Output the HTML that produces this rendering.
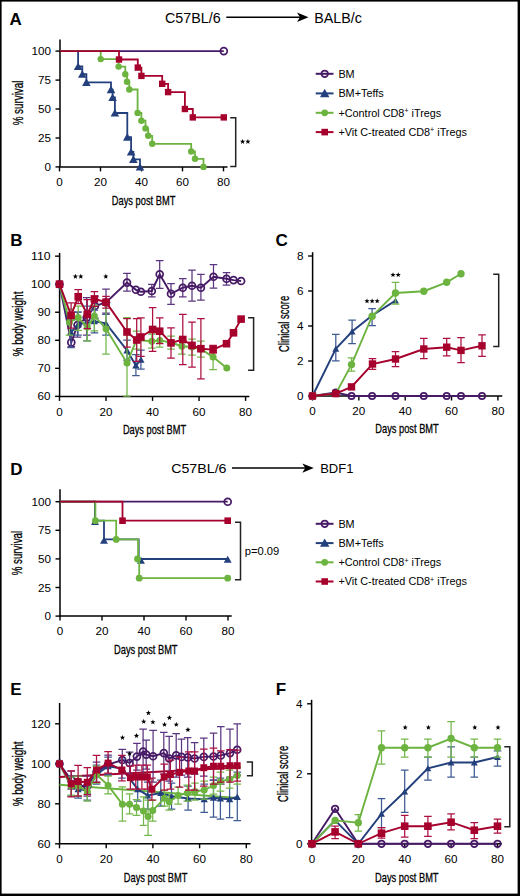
<!DOCTYPE html>
<html><head><meta charset="utf-8"><style>
html,body{margin:0;padding:0;background:#fff;width:520px;height:896px;overflow:hidden}
svg text{font-family:"Liberation Sans", sans-serif;fill:#000}
svg text.lab{stroke:#000;stroke-width:0.3px}
</style></head><body>
<svg width="520" height="896" viewBox="0 0 520 896" style="display:block;font-family:'Liberation Sans', sans-serif">
<rect x="0" y="0" width="520" height="896" fill="#fff"/>
<text x="9.6" y="25" font-size="17" text-anchor="start" font-weight="bold" >A</text>
<text x="165" y="22.5" font-size="14.0" text-anchor="start" font-weight="normal" textLength="55.7" lengthAdjust="spacingAndGlyphs">C57BL/6</text>
<line x1="226.3" y1="17.3" x2="300.5" y2="17.3" stroke="#000" stroke-width="1.5" />
<polygon points="308.5,17.3 297,12.6 300,17.3 297,22" fill="#000"/>
<text x="314.3" y="22.5" font-size="14.0" text-anchor="start" font-weight="normal" textLength="47.7" lengthAdjust="spacingAndGlyphs">BALB/c</text>
<line x1="60" y1="39.4" x2="60" y2="166.9" stroke="#000" stroke-width="1.5" />
<line x1="55.5" y1="51.1" x2="60" y2="51.1" stroke="#000" stroke-width="1.4" />
<text x="51" y="55.1" font-size="11.3" text-anchor="end" font-weight="normal" textLength="19.5" lengthAdjust="spacingAndGlyphs">100</text>
<line x1="55.5" y1="80.1" x2="60" y2="80.1" stroke="#000" stroke-width="1.4" />
<text x="51" y="84.1" font-size="11.3" text-anchor="end" font-weight="normal" textLength="13.0" lengthAdjust="spacingAndGlyphs">75</text>
<line x1="55.5" y1="109" x2="60" y2="109" stroke="#000" stroke-width="1.4" />
<text x="51" y="113" font-size="11.3" text-anchor="end" font-weight="normal" textLength="13.0" lengthAdjust="spacingAndGlyphs">50</text>
<line x1="55.5" y1="138" x2="60" y2="138" stroke="#000" stroke-width="1.4" />
<text x="51" y="142" font-size="11.3" text-anchor="end" font-weight="normal" textLength="13.0" lengthAdjust="spacingAndGlyphs">25</text>
<line x1="55.5" y1="166.9" x2="60" y2="166.9" stroke="#000" stroke-width="1.4" />
<text x="51" y="170.9" font-size="11.3" text-anchor="end" font-weight="normal" textLength="6.5" lengthAdjust="spacingAndGlyphs">0</text>
<line x1="59.25" y1="166.9" x2="227.5" y2="166.9" stroke="#000" stroke-width="1.5" />
<line x1="59.5" y1="166.9" x2="59.5" y2="171.4" stroke="#000" stroke-width="1.4" />
<text x="59.5" y="186.2" font-size="11.3" text-anchor="middle" font-weight="normal" textLength="6.5" lengthAdjust="spacingAndGlyphs">0</text>
<line x1="100.5" y1="166.9" x2="100.5" y2="171.4" stroke="#000" stroke-width="1.4" />
<text x="100.5" y="186.2" font-size="11.3" text-anchor="middle" font-weight="normal" textLength="13.0" lengthAdjust="spacingAndGlyphs">20</text>
<line x1="141.5" y1="166.9" x2="141.5" y2="171.4" stroke="#000" stroke-width="1.4" />
<text x="141.5" y="186.2" font-size="11.3" text-anchor="middle" font-weight="normal" textLength="13.0" lengthAdjust="spacingAndGlyphs">40</text>
<line x1="182.5" y1="166.9" x2="182.5" y2="171.4" stroke="#000" stroke-width="1.4" />
<text x="182.5" y="186.2" font-size="11.3" text-anchor="middle" font-weight="normal" textLength="13.0" lengthAdjust="spacingAndGlyphs">60</text>
<line x1="223.5" y1="166.9" x2="223.5" y2="171.4" stroke="#000" stroke-width="1.4" />
<text x="223.5" y="186.2" font-size="11.3" text-anchor="middle" font-weight="normal" textLength="13.0" lengthAdjust="spacingAndGlyphs">80</text>
<text class="lab" x="143.6" y="204.8" font-size="13.6" text-anchor="middle" textLength="63.5" lengthAdjust="spacingAndGlyphs">Days post BMT</text>
<text class="lab" transform="translate(22.6,103) rotate(-90)" x="0" y="0" font-size="14.0" text-anchor="middle" textLength="44.7" lengthAdjust="spacingAndGlyphs">% survival</text>
<polyline fill="none" stroke="#471a66" stroke-width="1.8" stroke-linejoin="miter" points="60,51.1 223.8,51.1"/>
<polyline fill="none" stroke="#23407d" stroke-width="1.8" stroke-linejoin="miter" points="60,51.1 78.1,51.1 78.1,66.4 82.3,66.4 82.3,74.2 86.4,74.2 86.4,82.3 111,82.3 111,89.6 112.6,89.6 112.6,97.4 114.9,97.4 114.9,113 127.3,113 127.3,137.1 131.1,137.1 131.1,151.9 133.4,151.9 133.4,159.3 140,159.3 140,166.9"/>
<polygon points="78.1,62.4 82.4,70 73.8,70" fill="#23407d"/>
<polygon points="82.3,70.2 86.6,77.8 78,77.8" fill="#23407d"/>
<polygon points="86.4,78.3 90.7,85.9 82.1,85.9" fill="#23407d"/>
<polygon points="111,85.6 115.3,93.2 106.7,93.2" fill="#23407d"/>
<polygon points="112.6,93.4 116.9,101 108.3,101" fill="#23407d"/>
<polygon points="114.9,109 119.2,116.6 110.6,116.6" fill="#23407d"/>
<polygon points="127.3,133.1 131.6,140.7 123,140.7" fill="#23407d"/>
<polygon points="131.1,147.9 135.4,155.5 126.8,155.5" fill="#23407d"/>
<polygon points="133.4,155.3 137.7,162.9 129.1,162.9" fill="#23407d"/>
<polygon points="140,162.9 144.3,170.5 135.7,170.5" fill="#23407d"/>
<polyline fill="none" stroke="#6cb33f" stroke-width="1.8" stroke-linejoin="miter" points="60,51.1 100.7,51.1 100.7,59.1 118.6,59.1 118.6,66.6 125.3,66.6 125.3,74.3 127,74.3 127,81.7 129.3,81.7 129.3,89.5 137.6,89.5 137.6,112.9 141.4,112.9 141.4,120.7 145.5,120.7 145.5,128.4 148.2,128.4 148.2,135.8 152.2,135.8 152.2,143.8 191.2,143.8 191.2,151.5 195,151.5 195,158.8 203.5,158.8 203.5,166.9"/>
<circle cx="100.7" cy="59.1" r="3.22" fill="#6cb33f"/>
<circle cx="118.6" cy="66.6" r="3.22" fill="#6cb33f"/>
<circle cx="125.3" cy="74.3" r="3.22" fill="#6cb33f"/>
<circle cx="127" cy="81.7" r="3.22" fill="#6cb33f"/>
<circle cx="129.3" cy="89.5" r="3.22" fill="#6cb33f"/>
<circle cx="137.6" cy="112.9" r="3.22" fill="#6cb33f"/>
<circle cx="141.4" cy="120.7" r="3.22" fill="#6cb33f"/>
<circle cx="145.5" cy="128.4" r="3.22" fill="#6cb33f"/>
<circle cx="148.2" cy="135.8" r="3.22" fill="#6cb33f"/>
<circle cx="152.2" cy="143.8" r="3.22" fill="#6cb33f"/>
<circle cx="191.2" cy="151.5" r="3.22" fill="#6cb33f"/>
<circle cx="195" cy="158.8" r="3.22" fill="#6cb33f"/>
<circle cx="203.5" cy="166.9" r="3.22" fill="#6cb33f"/>
<polyline fill="none" stroke="#a6002d" stroke-width="1.8" stroke-linejoin="miter" points="60,51.1 119,51.1 119,59.5 137.8,59.5 137.8,67.6 141.4,67.6 141.4,75.9 162.2,75.9 162.2,83.8 168.1,83.8 168.1,92.1 184.9,92.1 184.9,109 192.8,109 192.8,117.4 223.8,117.4"/>
<rect x="115.8" y="56.3" width="6.4" height="6.4" fill="#a6002d"/>
<rect x="134.6" y="64.4" width="6.4" height="6.4" fill="#a6002d"/>
<rect x="138.2" y="72.7" width="6.4" height="6.4" fill="#a6002d"/>
<rect x="159" y="80.6" width="6.4" height="6.4" fill="#a6002d"/>
<rect x="164.9" y="88.9" width="6.4" height="6.4" fill="#a6002d"/>
<rect x="181.7" y="105.8" width="6.4" height="6.4" fill="#a6002d"/>
<rect x="189.6" y="114.2" width="6.4" height="6.4" fill="#a6002d"/>
<rect x="220.6" y="114.2" width="6.4" height="6.4" fill="#a6002d"/>
<circle cx="223.8" cy="51.1" r="3.45" fill="none" stroke="#471a66" stroke-width="1.75"/>
<path d="M230.2 117.8H235.7V166.6H230.2" stroke="#222" stroke-width="1.5" fill="none"/>
<polygon points="242.6,138.95 243.28,140.77 245.22,140.85 243.7,142.06 244.22,143.92 242.6,142.85 240.98,143.92 241.5,142.06 239.98,140.85 241.92,140.77" fill="#000"/>
<polygon points="247.9,138.95 248.58,140.77 250.52,140.85 249,142.06 249.52,143.92 247.9,142.85 246.28,143.92 246.8,142.06 245.28,140.85 247.22,140.77" fill="#000"/>
<line x1="315.7" y1="73.8" x2="333.5" y2="73.8" stroke="#471a66" stroke-width="2" />
<circle cx="324.7" cy="73.8" r="3.28" fill="none" stroke="#471a66" stroke-width="1.75"/>
<text x="338.4" y="77.6" font-size="10.85" text-anchor="start" font-weight="normal" >BM</text>
<line x1="315.7" y1="93.4" x2="333.5" y2="93.4" stroke="#23407d" stroke-width="2" />
<polygon points="324.7,88.8 329.43,97.16 319.97,97.16" fill="#23407d"/>
<text x="338.4" y="97.2" font-size="10.85" text-anchor="start" font-weight="normal" >BM+Teffs</text>
<line x1="315.7" y1="112.8" x2="333.5" y2="112.8" stroke="#6cb33f" stroke-width="2" />
<circle cx="324.7" cy="112.8" r="3.36" fill="#6cb33f"/>
<text x="338.4" y="116.6" font-size="10.85" text-anchor="start" font-weight="normal" >+Control CD8<tspan font-size="7" dy="-3.5">+</tspan><tspan dy="3.5"> iTregs</tspan></text>
<line x1="315.7" y1="132.1" x2="333.5" y2="132.1" stroke="#a6002d" stroke-width="2" />
<rect x="321.4" y="128.8" width="6.6" height="6.6" fill="#a6002d"/>
<text x="338.4" y="135.9" font-size="10.85" text-anchor="start" font-weight="normal" >+Vit C-treated CD8<tspan font-size="7" dy="-3.5">+</tspan><tspan dy="3.5"> iTregs</tspan></text>
<text x="10.3" y="245.5" font-size="17" text-anchor="start" font-weight="bold" >B</text>
<line x1="59.6" y1="252.9" x2="59.6" y2="396.4" stroke="#000" stroke-width="1.5" />
<line x1="55.1" y1="256.16" x2="59.6" y2="256.16" stroke="#000" stroke-width="1.4" />
<text x="50.6" y="260.16" font-size="11.3" text-anchor="end" font-weight="normal" textLength="19.5" lengthAdjust="spacingAndGlyphs">110</text>
<line x1="55.1" y1="284.2" x2="59.6" y2="284.2" stroke="#000" stroke-width="1.4" />
<text x="50.6" y="288.2" font-size="11.3" text-anchor="end" font-weight="normal" textLength="19.5" lengthAdjust="spacingAndGlyphs">100</text>
<line x1="55.1" y1="312.24" x2="59.6" y2="312.24" stroke="#000" stroke-width="1.4" />
<text x="50.6" y="316.24" font-size="11.3" text-anchor="end" font-weight="normal" textLength="13.0" lengthAdjust="spacingAndGlyphs">90</text>
<line x1="55.1" y1="340.28" x2="59.6" y2="340.28" stroke="#000" stroke-width="1.4" />
<text x="50.6" y="344.28" font-size="11.3" text-anchor="end" font-weight="normal" textLength="13.0" lengthAdjust="spacingAndGlyphs">80</text>
<line x1="55.1" y1="368.32" x2="59.6" y2="368.32" stroke="#000" stroke-width="1.4" />
<text x="50.6" y="372.32" font-size="11.3" text-anchor="end" font-weight="normal" textLength="13.0" lengthAdjust="spacingAndGlyphs">70</text>
<line x1="55.1" y1="396.36" x2="59.6" y2="396.36" stroke="#000" stroke-width="1.4" />
<text x="50.6" y="400.36" font-size="11.3" text-anchor="end" font-weight="normal" textLength="13.0" lengthAdjust="spacingAndGlyphs">60</text>
<line x1="58.85" y1="396.4" x2="249.4" y2="396.4" stroke="#000" stroke-width="1.5" />
<line x1="59.5" y1="396.4" x2="59.5" y2="400.9" stroke="#000" stroke-width="1.4" />
<text x="59.5" y="415.7" font-size="11.3" text-anchor="middle" font-weight="normal" textLength="6.5" lengthAdjust="spacingAndGlyphs">0</text>
<line x1="106.02" y1="396.4" x2="106.02" y2="400.9" stroke="#000" stroke-width="1.4" />
<text x="106.02" y="415.7" font-size="11.3" text-anchor="middle" font-weight="normal" textLength="13.0" lengthAdjust="spacingAndGlyphs">20</text>
<line x1="152.54" y1="396.4" x2="152.54" y2="400.9" stroke="#000" stroke-width="1.4" />
<text x="152.54" y="415.7" font-size="11.3" text-anchor="middle" font-weight="normal" textLength="13.0" lengthAdjust="spacingAndGlyphs">40</text>
<line x1="199.06" y1="396.4" x2="199.06" y2="400.9" stroke="#000" stroke-width="1.4" />
<text x="199.06" y="415.7" font-size="11.3" text-anchor="middle" font-weight="normal" textLength="13.0" lengthAdjust="spacingAndGlyphs">60</text>
<line x1="245.58" y1="396.4" x2="245.58" y2="400.9" stroke="#000" stroke-width="1.4" />
<text x="245.58" y="415.7" font-size="11.3" text-anchor="middle" font-weight="normal" textLength="13.0" lengthAdjust="spacingAndGlyphs">80</text>
<text class="lab" x="154.5" y="434.1" font-size="13.6" text-anchor="middle" textLength="63.2" lengthAdjust="spacingAndGlyphs">Days post BMT</text>
<text class="lab" transform="translate(22.5,324) rotate(-90)" x="0" y="0" font-size="14.0" text-anchor="middle" textLength="64.8" lengthAdjust="spacingAndGlyphs">% body weight</text>
<path d="M71.3 334V346.7M67.5 334H75.1M67.5 346.7H75.1" stroke="#5c3680" stroke-width="1.25" fill="none"/>
<path d="M77.5 312V337M73.7 312H81.3M73.7 337H81.3" stroke="#5c3680" stroke-width="1.25" fill="none"/>
<path d="M86.7 297.5V335M82.9 297.5H90.5M82.9 335H90.5" stroke="#5c3680" stroke-width="1.25" fill="none"/>
<path d="M94.9 296V318M91.1 296H98.7M91.1 318H98.7" stroke="#5c3680" stroke-width="1.25" fill="none"/>
<path d="M106 289V313M102.2 289H109.8M102.2 313H109.8" stroke="#5c3680" stroke-width="1.25" fill="none"/>
<path d="M127 273.4V291M123.2 273.4H130.8M123.2 291H130.8" stroke="#5c3680" stroke-width="1.25" fill="none"/>
<path d="M151.8 284.3V296.9M148 284.3H155.6M148 296.9H155.6" stroke="#5c3680" stroke-width="1.25" fill="none"/>
<path d="M159.7 260.5V288.4M155.9 260.5H163.5M155.9 288.4H163.5" stroke="#5c3680" stroke-width="1.25" fill="none"/>
<path d="M171 283.5V304.4M167.2 283.5H174.8M167.2 304.4H174.8" stroke="#5c3680" stroke-width="1.25" fill="none"/>
<path d="M182.8 278.5V296.9M179 278.5H186.6M179 296.9H186.6" stroke="#5c3680" stroke-width="1.25" fill="none"/>
<path d="M192 270V301M188.2 270H195.8M188.2 301H195.8" stroke="#5c3680" stroke-width="1.25" fill="none"/>
<path d="M200.9 274.3V300.2M197.1 274.3H204.7M197.1 300.2H204.7" stroke="#5c3680" stroke-width="1.25" fill="none"/>
<path d="M213.5 264.7V288.2M209.7 264.7H217.3M209.7 288.2H217.3" stroke="#5c3680" stroke-width="1.25" fill="none"/>
<path d="M226.5 272.6V285.1M222.7 272.6H230.3M222.7 285.1H230.3" stroke="#5c3680" stroke-width="1.25" fill="none"/>
<polyline fill="none" stroke="#471a66" stroke-width="1.9" stroke-linejoin="miter" points="59.5,284.2 71.3,342.4 77.5,325 86.7,317.6 94.9,306 106,302.5 127,282.6 135.9,289.8 140.9,291.8 151.8,291 159.7,274.3 171,293.8 182.8,287.7 192,285.8 200.9,287.7 213.5,276.8 226.5,278.8 233.5,280.1 241.1,281"/>
<circle cx="59.5" cy="284.2" r="3.45" fill="none" stroke="#471a66" stroke-width="1.75"/>
<circle cx="71.3" cy="342.4" r="3.45" fill="none" stroke="#471a66" stroke-width="1.75"/>
<circle cx="77.5" cy="325" r="3.45" fill="none" stroke="#471a66" stroke-width="1.75"/>
<circle cx="86.7" cy="317.6" r="3.45" fill="none" stroke="#471a66" stroke-width="1.75"/>
<circle cx="94.9" cy="306" r="3.45" fill="none" stroke="#471a66" stroke-width="1.75"/>
<circle cx="106" cy="302.5" r="3.45" fill="none" stroke="#471a66" stroke-width="1.75"/>
<circle cx="127" cy="282.6" r="3.45" fill="none" stroke="#471a66" stroke-width="1.75"/>
<circle cx="135.9" cy="289.8" r="3.45" fill="none" stroke="#471a66" stroke-width="1.75"/>
<circle cx="140.9" cy="291.8" r="3.45" fill="none" stroke="#471a66" stroke-width="1.75"/>
<circle cx="151.8" cy="291" r="3.45" fill="none" stroke="#471a66" stroke-width="1.75"/>
<circle cx="159.7" cy="274.3" r="3.45" fill="none" stroke="#471a66" stroke-width="1.75"/>
<circle cx="171" cy="293.8" r="3.45" fill="none" stroke="#471a66" stroke-width="1.75"/>
<circle cx="182.8" cy="287.7" r="3.45" fill="none" stroke="#471a66" stroke-width="1.75"/>
<circle cx="192" cy="285.8" r="3.45" fill="none" stroke="#471a66" stroke-width="1.75"/>
<circle cx="200.9" cy="287.7" r="3.45" fill="none" stroke="#471a66" stroke-width="1.75"/>
<circle cx="213.5" cy="276.8" r="3.45" fill="none" stroke="#471a66" stroke-width="1.75"/>
<circle cx="226.5" cy="278.8" r="3.45" fill="none" stroke="#471a66" stroke-width="1.75"/>
<circle cx="233.5" cy="280.1" r="3.45" fill="none" stroke="#471a66" stroke-width="1.75"/>
<circle cx="241.1" cy="281" r="3.45" fill="none" stroke="#471a66" stroke-width="1.75"/>
<path d="M71 320V347.7M67.2 320H74.8M67.2 347.7H74.8" stroke="#3e5b94" stroke-width="1.25" fill="none"/>
<path d="M78 312V335M74.2 312H81.8M74.2 335H81.8" stroke="#3e5b94" stroke-width="1.25" fill="none"/>
<path d="M87 306V340.8M83.2 306H90.8M83.2 340.8H90.8" stroke="#3e5b94" stroke-width="1.25" fill="none"/>
<path d="M94.4 310V332.9M90.6 310H98.2M90.6 332.9H98.2" stroke="#3e5b94" stroke-width="1.25" fill="none"/>
<path d="M106 314.4V335M102.2 314.4H109.8M102.2 335H109.8" stroke="#3e5b94" stroke-width="1.25" fill="none"/>
<path d="M127 340V360M123.2 340H130.8M123.2 360H130.8" stroke="#3e5b94" stroke-width="1.25" fill="none"/>
<path d="M135.9 354.6V375.5M132.1 354.6H139.7M132.1 375.5H139.7" stroke="#3e5b94" stroke-width="1.25" fill="none"/>
<path d="M140.9 350V369M137.1 350H144.7M137.1 369H144.7" stroke="#3e5b94" stroke-width="1.25" fill="none"/>
<polyline fill="none" stroke="#23407d" stroke-width="1.9" stroke-linejoin="miter" points="59.5,284.2 71,332.4 78,324.4 87,322.9 94.4,321.3 106,323.4 127,350.4 135.9,365.5 140.9,359.6"/>
<polygon points="59.5,280.8 63.16,287.26 55.84,287.26" fill="#23407d"/>
<polygon points="71,329 74.66,335.46 67.34,335.46" fill="#23407d"/>
<polygon points="78,321 81.66,327.46 74.34,327.46" fill="#23407d"/>
<polygon points="87,319.5 90.66,325.96 83.34,325.96" fill="#23407d"/>
<polygon points="94.4,317.9 98.06,324.36 90.75,324.36" fill="#23407d"/>
<polygon points="106,320 109.66,326.46 102.34,326.46" fill="#23407d"/>
<polygon points="127,347 130.66,353.46 123.34,353.46" fill="#23407d"/>
<polygon points="135.9,362.1 139.56,368.56 132.25,368.56" fill="#23407d"/>
<polygon points="140.9,356.2 144.56,362.66 137.25,362.66" fill="#23407d"/>
<path d="M69.5 309V335M65.7 309H73.3M65.7 335H73.3" stroke="#74b74a" stroke-width="1.25" fill="none"/>
<path d="M78.2 306V330.3M74.4 306H82M74.4 330.3H82" stroke="#74b74a" stroke-width="1.25" fill="none"/>
<path d="M87.3 313V340.8M83.5 313H91.1M83.5 340.8H91.1" stroke="#74b74a" stroke-width="1.25" fill="none"/>
<path d="M94.4 305.4V330.8M90.6 305.4H98.2M90.6 330.8H98.2" stroke="#74b74a" stroke-width="1.25" fill="none"/>
<path d="M106 304.3V354M102.2 304.3H109.8M102.2 354H109.8" stroke="#74b74a" stroke-width="1.25" fill="none"/>
<path d="M127 317.7V396M123.2 317.7H130.8M123.2 396H130.8" stroke="#74b74a" stroke-width="1.25" fill="none"/>
<path d="M136.5 331V349M132.7 331H140.3M132.7 349H140.3" stroke="#74b74a" stroke-width="1.25" fill="none"/>
<path d="M151.8 334V348M148 334H155.6M148 348H155.6" stroke="#74b74a" stroke-width="1.25" fill="none"/>
<path d="M159.7 333V347M155.9 333H163.5M155.9 347H163.5" stroke="#74b74a" stroke-width="1.25" fill="none"/>
<path d="M171 336V349M167.2 336H174.8M167.2 349H174.8" stroke="#74b74a" stroke-width="1.25" fill="none"/>
<path d="M181.9 338V354M178.1 338H185.7M178.1 354H185.7" stroke="#74b74a" stroke-width="1.25" fill="none"/>
<path d="M192 339V355M188.2 339H195.8M188.2 355H195.8" stroke="#74b74a" stroke-width="1.25" fill="none"/>
<path d="M200.9 341V357M197.1 341H204.7M197.1 357H204.7" stroke="#74b74a" stroke-width="1.25" fill="none"/>
<path d="M213.1 346.2V369.7M209.3 346.2H216.9M209.3 369.7H216.9" stroke="#74b74a" stroke-width="1.25" fill="none"/>
<polyline fill="none" stroke="#6cb33f" stroke-width="1.9" stroke-linejoin="miter" points="59.5,284.2 69.5,322.3 78.2,317.6 87.3,327.1 94.4,316 106,328.7 127,363 136.5,340 151.8,341.2 159.7,340.4 171,342.5 181.9,346.2 192,347 200.9,349 213.1,357.1 226.8,368"/>
<circle cx="59.5" cy="284.2" r="3.5" fill="#6cb33f"/>
<circle cx="69.5" cy="322.3" r="3.5" fill="#6cb33f"/>
<circle cx="78.2" cy="317.6" r="3.5" fill="#6cb33f"/>
<circle cx="87.3" cy="327.1" r="3.5" fill="#6cb33f"/>
<circle cx="94.4" cy="316" r="3.5" fill="#6cb33f"/>
<circle cx="106" cy="328.7" r="3.5" fill="#6cb33f"/>
<circle cx="127" cy="363" r="3.5" fill="#6cb33f"/>
<circle cx="136.5" cy="340" r="3.5" fill="#6cb33f"/>
<circle cx="151.8" cy="341.2" r="3.5" fill="#6cb33f"/>
<circle cx="159.7" cy="340.4" r="3.5" fill="#6cb33f"/>
<circle cx="171" cy="342.5" r="3.5" fill="#6cb33f"/>
<circle cx="181.9" cy="346.2" r="3.5" fill="#6cb33f"/>
<circle cx="192" cy="347" r="3.5" fill="#6cb33f"/>
<circle cx="200.9" cy="349" r="3.5" fill="#6cb33f"/>
<circle cx="213.1" cy="357.1" r="3.5" fill="#6cb33f"/>
<circle cx="226.8" cy="368" r="3.5" fill="#6cb33f"/>
<path d="M71.1 302.8V328M67.3 302.8H74.9M67.3 328H74.9" stroke="#ad1040" stroke-width="1.25" fill="none"/>
<path d="M78.2 289.7V303.7M74.4 289.7H82M74.4 303.7H82" stroke="#ad1040" stroke-width="1.25" fill="none"/>
<path d="M87.3 299.6V328.7M83.5 299.6H91.1M83.5 328.7H91.1" stroke="#ad1040" stroke-width="1.25" fill="none"/>
<path d="M94.4 291.6V306.4M90.6 291.6H98.2M90.6 306.4H98.2" stroke="#ad1040" stroke-width="1.25" fill="none"/>
<path d="M106 296.4V308M102.2 296.4H109.8M102.2 308H109.8" stroke="#ad1040" stroke-width="1.25" fill="none"/>
<path d="M127 318.6V347M123.2 318.6H130.8M123.2 347H130.8" stroke="#ad1040" stroke-width="1.25" fill="none"/>
<path d="M136.7 318.6V361.3M132.9 318.6H140.5M132.9 361.3H140.5" stroke="#ad1040" stroke-width="1.25" fill="none"/>
<path d="M140.9 317.8V356.3M137.1 317.8H144.7M137.1 356.3H144.7" stroke="#ad1040" stroke-width="1.25" fill="none"/>
<path d="M152.6 307.7V351.3M148.8 307.7H156.4M148.8 351.3H156.4" stroke="#ad1040" stroke-width="1.25" fill="none"/>
<path d="M159.7 317.8V343.7M155.9 317.8H163.5M155.9 343.7H163.5" stroke="#ad1040" stroke-width="1.25" fill="none"/>
<path d="M171 327.8V358M167.2 327.8H174.8M167.2 358H174.8" stroke="#ad1040" stroke-width="1.25" fill="none"/>
<path d="M182.8 314.4V364.6M179 314.4H186.6M179 364.6H186.6" stroke="#ad1040" stroke-width="1.25" fill="none"/>
<path d="M192 322V367.2M188.2 322H195.8M188.2 367.2H195.8" stroke="#ad1040" stroke-width="1.25" fill="none"/>
<path d="M200.9 318.6V378.9M197.1 318.6H204.7M197.1 378.9H204.7" stroke="#ad1040" stroke-width="1.25" fill="none"/>
<path d="M213.1 345.4V352.9M209.3 345.4H216.9M209.3 352.9H216.9" stroke="#ad1040" stroke-width="1.25" fill="none"/>
<polyline fill="none" stroke="#a6002d" stroke-width="1.9" stroke-linejoin="miter" points="59.5,284.2 71.1,315.4 78.2,296.7 87.3,314.4 94.4,299 106,302.2 127,332 136.7,340 140.9,337 152.6,329.5 159.7,331.2 171,342.9 182.8,339.5 192,345.4 200.9,348.7 213.1,349.6 226.5,343.7 233.5,332.8 241.1,319.1"/>
<rect x="55.7" y="280.4" width="7.59" height="7.59" fill="#a6002d"/>
<rect x="67.3" y="311.6" width="7.59" height="7.59" fill="#a6002d"/>
<rect x="74.41" y="292.9" width="7.59" height="7.59" fill="#a6002d"/>
<rect x="83.5" y="310.6" width="7.59" height="7.59" fill="#a6002d"/>
<rect x="90.61" y="295.2" width="7.59" height="7.59" fill="#a6002d"/>
<rect x="102.2" y="298.4" width="7.59" height="7.59" fill="#a6002d"/>
<rect x="123.2" y="328.2" width="7.59" height="7.59" fill="#a6002d"/>
<rect x="132.91" y="336.2" width="7.59" height="7.59" fill="#a6002d"/>
<rect x="137.11" y="333.2" width="7.59" height="7.59" fill="#a6002d"/>
<rect x="148.81" y="325.7" width="7.59" height="7.59" fill="#a6002d"/>
<rect x="155.91" y="327.4" width="7.59" height="7.59" fill="#a6002d"/>
<rect x="167.21" y="339.1" width="7.59" height="7.59" fill="#a6002d"/>
<rect x="179.01" y="335.7" width="7.59" height="7.59" fill="#a6002d"/>
<rect x="188.21" y="341.6" width="7.59" height="7.59" fill="#a6002d"/>
<rect x="197.11" y="344.9" width="7.59" height="7.59" fill="#a6002d"/>
<rect x="209.31" y="345.81" width="7.59" height="7.59" fill="#a6002d"/>
<rect x="222.71" y="339.9" width="7.59" height="7.59" fill="#a6002d"/>
<rect x="229.71" y="329" width="7.59" height="7.59" fill="#a6002d"/>
<rect x="237.31" y="315.31" width="7.59" height="7.59" fill="#a6002d"/>
<polygon points="75.4,273.75 76.08,275.57 78.02,275.65 76.5,276.86 77.02,278.72 75.4,277.65 73.78,278.72 74.3,276.86 72.78,275.65 74.72,275.57" fill="#000"/>
<polygon points="80.8,273.75 81.48,275.57 83.42,275.65 81.9,276.86 82.42,278.72 80.8,277.65 79.18,278.72 79.7,276.86 78.18,275.65 80.12,275.57" fill="#000"/>
<polygon points="105.8,273.75 106.48,275.57 108.42,275.65 106.9,276.86 107.42,278.72 105.8,277.65 104.18,278.72 104.7,276.86 103.18,275.65 105.12,275.57" fill="#000"/>
<path d="M248.1 317.8H253.6V370.2H248.1" stroke="#222" stroke-width="1.5" fill="none"/>
<text x="275.4" y="245.8" font-size="17" text-anchor="start" font-weight="bold" >C</text>
<line x1="312.6" y1="252.2" x2="312.6" y2="396" stroke="#000" stroke-width="1.5" />
<line x1="308.1" y1="256" x2="312.6" y2="256" stroke="#000" stroke-width="1.4" />
<text x="303.6" y="260" font-size="11.3" text-anchor="end" font-weight="normal" textLength="6.5" lengthAdjust="spacingAndGlyphs">8</text>
<line x1="308.1" y1="291" x2="312.6" y2="291" stroke="#000" stroke-width="1.4" />
<text x="303.6" y="295" font-size="11.3" text-anchor="end" font-weight="normal" textLength="6.5" lengthAdjust="spacingAndGlyphs">6</text>
<line x1="308.1" y1="326" x2="312.6" y2="326" stroke="#000" stroke-width="1.4" />
<text x="303.6" y="330" font-size="11.3" text-anchor="end" font-weight="normal" textLength="6.5" lengthAdjust="spacingAndGlyphs">4</text>
<line x1="308.1" y1="361" x2="312.6" y2="361" stroke="#000" stroke-width="1.4" />
<text x="303.6" y="365" font-size="11.3" text-anchor="end" font-weight="normal" textLength="6.5" lengthAdjust="spacingAndGlyphs">2</text>
<line x1="308.1" y1="396" x2="312.6" y2="396" stroke="#000" stroke-width="1.4" />
<text x="303.6" y="400" font-size="11.3" text-anchor="end" font-weight="normal" textLength="6.5" lengthAdjust="spacingAndGlyphs">0</text>
<line x1="311.85" y1="396" x2="502.3" y2="396" stroke="#000" stroke-width="1.5" />
<line x1="312.5" y1="396" x2="312.5" y2="400.5" stroke="#000" stroke-width="1.4" />
<text x="312.5" y="415.3" font-size="11.3" text-anchor="middle" font-weight="normal" textLength="6.5" lengthAdjust="spacingAndGlyphs">0</text>
<line x1="358.85" y1="396" x2="358.85" y2="400.5" stroke="#000" stroke-width="1.4" />
<text x="358.85" y="415.3" font-size="11.3" text-anchor="middle" font-weight="normal" textLength="13.0" lengthAdjust="spacingAndGlyphs">20</text>
<line x1="405.2" y1="396" x2="405.2" y2="400.5" stroke="#000" stroke-width="1.4" />
<text x="405.2" y="415.3" font-size="11.3" text-anchor="middle" font-weight="normal" textLength="13.0" lengthAdjust="spacingAndGlyphs">40</text>
<line x1="451.55" y1="396" x2="451.55" y2="400.5" stroke="#000" stroke-width="1.4" />
<text x="451.55" y="415.3" font-size="11.3" text-anchor="middle" font-weight="normal" textLength="13.0" lengthAdjust="spacingAndGlyphs">60</text>
<line x1="497.9" y1="396" x2="497.9" y2="400.5" stroke="#000" stroke-width="1.4" />
<text x="497.9" y="415.3" font-size="11.3" text-anchor="middle" font-weight="normal" textLength="13.0" lengthAdjust="spacingAndGlyphs">80</text>
<text class="lab" x="407" y="433.4" font-size="13.6" text-anchor="middle" textLength="63.5" lengthAdjust="spacingAndGlyphs">Days post BMT</text>
<text class="lab" transform="translate(288.7,323.9) rotate(-90)" x="0" y="0" font-size="14.0" text-anchor="middle" textLength="56.3" lengthAdjust="spacingAndGlyphs">Clinical score</text>
<polyline fill="none" stroke="#471a66" stroke-width="1.9" stroke-linejoin="miter" points="312.5,396 335.8,392.5 351.5,396 372.1,396 395.5,396 423.8,396 446.7,396 461,396 482,396"/>
<circle cx="312.5" cy="396" r="3.11" fill="none" stroke="#471a66" stroke-width="1.75"/>
<circle cx="335.8" cy="392.5" r="3.11" fill="none" stroke="#471a66" stroke-width="1.75"/>
<circle cx="351.5" cy="396" r="3.11" fill="none" stroke="#471a66" stroke-width="1.75"/>
<circle cx="372.1" cy="396" r="3.11" fill="none" stroke="#471a66" stroke-width="1.75"/>
<circle cx="395.5" cy="396" r="3.11" fill="none" stroke="#471a66" stroke-width="1.75"/>
<circle cx="423.8" cy="396" r="3.11" fill="none" stroke="#471a66" stroke-width="1.75"/>
<circle cx="446.7" cy="396" r="3.11" fill="none" stroke="#471a66" stroke-width="1.75"/>
<circle cx="461" cy="396" r="3.11" fill="none" stroke="#471a66" stroke-width="1.75"/>
<circle cx="482" cy="396" r="3.11" fill="none" stroke="#471a66" stroke-width="1.75"/>
<path d="M335.8 334.4V360.8M332 334.4H339.6M332 360.8H339.6" stroke="#3e5b94" stroke-width="1.25" fill="none"/>
<path d="M352.1 320V343.5M348.3 320H355.9M348.3 343.5H355.9" stroke="#3e5b94" stroke-width="1.25" fill="none"/>
<path d="M372.1 308.7V325.6M368.3 308.7H375.9M368.3 325.6H375.9" stroke="#3e5b94" stroke-width="1.25" fill="none"/>
<polyline fill="none" stroke="#23407d" stroke-width="1.9" stroke-linejoin="miter" points="312.5,396 335.8,348.8 352.1,331.5 372.1,315.4 395.5,300.6"/>
<polygon points="312.5,392.8 315.94,398.88 309.06,398.88" fill="#23407d"/>
<polygon points="335.8,345.6 339.24,351.68 332.36,351.68" fill="#23407d"/>
<polygon points="352.1,328.3 355.54,334.38 348.66,334.38" fill="#23407d"/>
<polygon points="372.1,312.2 375.54,318.28 368.66,318.28" fill="#23407d"/>
<polygon points="395.5,297.4 398.94,303.48 392.06,303.48" fill="#23407d"/>
<path d="M351.5 357.9V371M347.7 357.9H355.3M347.7 371H355.3" stroke="#74b74a" stroke-width="1.25" fill="none"/>
<path d="M395.5 282.3V304M391.7 282.3H399.3M391.7 304H399.3" stroke="#74b74a" stroke-width="1.25" fill="none"/>
<polyline fill="none" stroke="#6cb33f" stroke-width="1.9" stroke-linejoin="miter" points="312.5,396 335.8,393.6 351.5,364.6 372.1,316.2 395.5,293 423.8,291.2 446.7,282.3 461,273.7"/>
<circle cx="312.5" cy="396" r="3.68" fill="#6cb33f"/>
<circle cx="335.8" cy="393.6" r="3.68" fill="#6cb33f"/>
<circle cx="351.5" cy="364.6" r="3.68" fill="#6cb33f"/>
<circle cx="372.1" cy="316.2" r="3.68" fill="#6cb33f"/>
<circle cx="395.5" cy="293" r="3.68" fill="#6cb33f"/>
<circle cx="423.8" cy="291.2" r="3.68" fill="#6cb33f"/>
<circle cx="446.7" cy="282.3" r="3.68" fill="#6cb33f"/>
<circle cx="461" cy="273.7" r="3.68" fill="#6cb33f"/>
<path d="M372.5 358.6V369.4M368.7 358.6H376.3M368.7 369.4H376.3" stroke="#ad1040" stroke-width="1.25" fill="none"/>
<path d="M395.5 351.7V366.5M391.7 351.7H399.3M391.7 366.5H399.3" stroke="#ad1040" stroke-width="1.25" fill="none"/>
<path d="M423.8 338.3V358.5M420 338.3H427.6M420 358.5H427.6" stroke="#ad1040" stroke-width="1.25" fill="none"/>
<path d="M446.7 338.3V355.8M442.9 338.3H450.5M442.9 355.8H450.5" stroke="#ad1040" stroke-width="1.25" fill="none"/>
<path d="M461 337.5V362.5M457.2 337.5H464.8M457.2 362.5H464.8" stroke="#ad1040" stroke-width="1.25" fill="none"/>
<path d="M482 334.8V356.3M478.2 334.8H485.8M478.2 356.3H485.8" stroke="#ad1040" stroke-width="1.25" fill="none"/>
<polyline fill="none" stroke="#a6002d" stroke-width="1.9" stroke-linejoin="miter" points="312.5,396 335.8,393.6 351.5,386.9 372.5,364 395.5,359 423.8,349 446.7,347.2 461,350.4 482,345.8"/>
<rect x="308.8" y="392.3" width="7.39" height="7.39" fill="#a6002d"/>
<rect x="332.1" y="389.9" width="7.39" height="7.39" fill="#a6002d"/>
<rect x="347.8" y="383.2" width="7.39" height="7.39" fill="#a6002d"/>
<rect x="368.8" y="360.3" width="7.39" height="7.39" fill="#a6002d"/>
<rect x="391.8" y="355.3" width="7.39" height="7.39" fill="#a6002d"/>
<rect x="420.1" y="345.3" width="7.39" height="7.39" fill="#a6002d"/>
<rect x="443" y="343.5" width="7.39" height="7.39" fill="#a6002d"/>
<rect x="457.3" y="346.7" width="7.39" height="7.39" fill="#a6002d"/>
<rect x="478.3" y="342.1" width="7.39" height="7.39" fill="#a6002d"/>
<polygon points="367,298.35 367.68,300.17 369.62,300.25 368.1,301.46 368.62,303.32 367,302.25 365.38,303.32 365.9,301.46 364.38,300.25 366.32,300.17" fill="#000"/>
<polygon points="372.1,298.35 372.78,300.17 374.72,300.25 373.2,301.46 373.72,303.32 372.1,302.25 370.48,303.32 371,301.46 369.48,300.25 371.42,300.17" fill="#000"/>
<polygon points="377.2,298.35 377.88,300.17 379.82,300.25 378.3,301.46 378.82,303.32 377.2,302.25 375.58,303.32 376.1,301.46 374.58,300.25 376.52,300.17" fill="#000"/>
<polygon points="393,272.15 393.68,273.97 395.62,274.05 394.1,275.26 394.62,277.12 393,276.05 391.38,277.12 391.9,275.26 390.38,274.05 392.32,273.97" fill="#000"/>
<polygon points="398.2,272.15 398.88,273.97 400.82,274.05 399.3,275.26 399.82,277.12 398.2,276.05 396.58,277.12 397.1,275.26 395.58,274.05 397.52,273.97" fill="#000"/>
<path d="M493.2 274.2H498.7V346.4H493.2" stroke="#222" stroke-width="1.5" fill="none"/>
<text x="10.2" y="475" font-size="17" text-anchor="start" font-weight="bold" >D</text>
<text x="171.2" y="472.6" font-size="13.6" text-anchor="start" font-weight="normal" textLength="55.3" lengthAdjust="spacingAndGlyphs">C57BL/6</text>
<line x1="232" y1="468.1" x2="305.8" y2="468.1" stroke="#000" stroke-width="1.5" />
<polygon points="313.8,468.1 302.3,463.4 305.3,468.1 302.3,472.8" fill="#000"/>
<text x="320.2" y="472.6" font-size="13.6" text-anchor="start" font-weight="normal" textLength="33.2" lengthAdjust="spacingAndGlyphs">BDF1</text>
<line x1="60" y1="489.3" x2="60" y2="616.1" stroke="#000" stroke-width="1.5" />
<line x1="55.5" y1="501.7" x2="60" y2="501.7" stroke="#000" stroke-width="1.4" />
<text x="51" y="505.7" font-size="11.3" text-anchor="end" font-weight="normal" textLength="19.5" lengthAdjust="spacingAndGlyphs">100</text>
<line x1="55.5" y1="530.3" x2="60" y2="530.3" stroke="#000" stroke-width="1.4" />
<text x="51" y="534.3" font-size="11.3" text-anchor="end" font-weight="normal" textLength="13.0" lengthAdjust="spacingAndGlyphs">75</text>
<line x1="55.5" y1="558.9" x2="60" y2="558.9" stroke="#000" stroke-width="1.4" />
<text x="51" y="562.9" font-size="11.3" text-anchor="end" font-weight="normal" textLength="13.0" lengthAdjust="spacingAndGlyphs">50</text>
<line x1="55.5" y1="587.5" x2="60" y2="587.5" stroke="#000" stroke-width="1.4" />
<text x="51" y="591.5" font-size="11.3" text-anchor="end" font-weight="normal" textLength="13.0" lengthAdjust="spacingAndGlyphs">25</text>
<line x1="55.5" y1="616.1" x2="60" y2="616.1" stroke="#000" stroke-width="1.4" />
<text x="51" y="620.1" font-size="11.3" text-anchor="end" font-weight="normal" textLength="6.5" lengthAdjust="spacingAndGlyphs">0</text>
<line x1="59.25" y1="616.1" x2="231.7" y2="616.1" stroke="#000" stroke-width="1.5" />
<line x1="60" y1="616.1" x2="60" y2="620.6" stroke="#000" stroke-width="1.4" />
<text x="60" y="635.4" font-size="11.3" text-anchor="middle" font-weight="normal" textLength="6.5" lengthAdjust="spacingAndGlyphs">0</text>
<line x1="102" y1="616.1" x2="102" y2="620.6" stroke="#000" stroke-width="1.4" />
<text x="102" y="635.4" font-size="11.3" text-anchor="middle" font-weight="normal" textLength="13.0" lengthAdjust="spacingAndGlyphs">20</text>
<line x1="144" y1="616.1" x2="144" y2="620.6" stroke="#000" stroke-width="1.4" />
<text x="144" y="635.4" font-size="11.3" text-anchor="middle" font-weight="normal" textLength="13.0" lengthAdjust="spacingAndGlyphs">40</text>
<line x1="186" y1="616.1" x2="186" y2="620.6" stroke="#000" stroke-width="1.4" />
<text x="186" y="635.4" font-size="11.3" text-anchor="middle" font-weight="normal" textLength="13.0" lengthAdjust="spacingAndGlyphs">60</text>
<line x1="228" y1="616.1" x2="228" y2="620.6" stroke="#000" stroke-width="1.4" />
<text x="228" y="635.4" font-size="11.3" text-anchor="middle" font-weight="normal" textLength="13.0" lengthAdjust="spacingAndGlyphs">80</text>
<text class="lab" x="145.8" y="654" font-size="13.6" text-anchor="middle" textLength="63.5" lengthAdjust="spacingAndGlyphs">Days post BMT</text>
<text class="lab" transform="translate(22.4,553.1) rotate(-90)" x="0" y="0" font-size="14.0" text-anchor="middle" textLength="44.3" lengthAdjust="spacingAndGlyphs">% survival</text>
<polyline fill="none" stroke="#471a66" stroke-width="1.8" stroke-linejoin="miter" points="60,501.7 227.7,501.7"/>
<polyline fill="none" stroke="#23407d" stroke-width="1.8" stroke-linejoin="miter" points="60,501.7 95,501.7 95,520.7 104,520.7 104,539.4 138.7,539.4 138.7,559 227.7,559"/>
<polygon points="95,518.02 98.96,525.01 91.04,525.01" fill="#23407d"/>
<polygon points="104,536.72 107.96,543.71 100.04,543.71" fill="#23407d"/>
<polygon points="141,556.82 144.96,563.81 137.04,563.81" fill="#23407d"/>
<polygon points="227.7,555.82 231.66,562.81 223.74,562.81" fill="#23407d"/>
<polyline fill="none" stroke="#6cb33f" stroke-width="1.8" stroke-linejoin="miter" points="60,501.7 95.4,501.7 95.4,520.7 116.2,520.7 116.2,539.4 138.1,539.4 138.1,559 139.2,559 139.2,578.2 227.7,578.2"/>
<circle cx="95.4" cy="520.7" r="3.4" fill="#6cb33f"/>
<circle cx="116.2" cy="539.4" r="3.4" fill="#6cb33f"/>
<circle cx="137.5" cy="559" r="3.4" fill="#6cb33f"/>
<circle cx="139.2" cy="578.2" r="3.4" fill="#6cb33f"/>
<circle cx="227.7" cy="578.2" r="3.4" fill="#6cb33f"/>
<polyline fill="none" stroke="#a6002d" stroke-width="1.8" stroke-linejoin="miter" points="60,501.7 122.5,501.7 122.5,520.7 227.7,520.7"/>
<rect x="119.2" y="517.4" width="6.6" height="6.6" fill="#a6002d"/>
<rect x="224.4" y="517.4" width="6.6" height="6.6" fill="#a6002d"/>
<circle cx="227.7" cy="501.7" r="3.45" fill="none" stroke="#471a66" stroke-width="1.75"/>
<path d="M235 522.3H240.5V579.8H235" stroke="#222" stroke-width="1.5" fill="none"/>
<text x="244.7" y="554.9" font-size="11.2" text-anchor="start" font-weight="normal" >p=0.09</text>
<line x1="315.7" y1="523.8" x2="333.5" y2="523.8" stroke="#471a66" stroke-width="2" />
<circle cx="324.7" cy="523.8" r="3.28" fill="none" stroke="#471a66" stroke-width="1.75"/>
<text x="338.4" y="527.6" font-size="10.85" text-anchor="start" font-weight="normal" >BM</text>
<line x1="315.7" y1="543.1" x2="333.5" y2="543.1" stroke="#23407d" stroke-width="2" />
<polygon points="324.7,538.5 329.43,546.86 319.97,546.86" fill="#23407d"/>
<text x="338.4" y="546.9" font-size="10.85" text-anchor="start" font-weight="normal" >BM+Teffs</text>
<line x1="315.7" y1="562.3" x2="333.5" y2="562.3" stroke="#6cb33f" stroke-width="2" />
<circle cx="324.7" cy="562.3" r="3.36" fill="#6cb33f"/>
<text x="338.4" y="566.1" font-size="10.85" text-anchor="start" font-weight="normal" >+Control CD8<tspan font-size="7" dy="-3.5">+</tspan><tspan dy="3.5"> iTregs</tspan></text>
<line x1="315.7" y1="581.5" x2="333.5" y2="581.5" stroke="#a6002d" stroke-width="2" />
<rect x="321.4" y="578.2" width="6.6" height="6.6" fill="#a6002d"/>
<text x="338.4" y="585.3" font-size="10.85" text-anchor="start" font-weight="normal" >+Vit C-treated CD8<tspan font-size="7" dy="-3.5">+</tspan><tspan dy="3.5"> iTregs</tspan></text>
<text x="10.3" y="695.2" font-size="17" text-anchor="start" font-weight="bold" >E</text>
<line x1="59.6" y1="703" x2="59.6" y2="843.8" stroke="#000" stroke-width="1.5" />
<line x1="55.1" y1="723.8" x2="59.6" y2="723.8" stroke="#000" stroke-width="1.4" />
<text x="50.6" y="727.8" font-size="11.3" text-anchor="end" font-weight="normal" textLength="19.5" lengthAdjust="spacingAndGlyphs">120</text>
<line x1="55.1" y1="763.8" x2="59.6" y2="763.8" stroke="#000" stroke-width="1.4" />
<text x="50.6" y="767.8" font-size="11.3" text-anchor="end" font-weight="normal" textLength="19.5" lengthAdjust="spacingAndGlyphs">100</text>
<line x1="55.1" y1="803.8" x2="59.6" y2="803.8" stroke="#000" stroke-width="1.4" />
<text x="50.6" y="807.8" font-size="11.3" text-anchor="end" font-weight="normal" textLength="13.0" lengthAdjust="spacingAndGlyphs">80</text>
<line x1="55.1" y1="843.8" x2="59.6" y2="843.8" stroke="#000" stroke-width="1.4" />
<text x="50.6" y="847.8" font-size="11.3" text-anchor="end" font-weight="normal" textLength="13.0" lengthAdjust="spacingAndGlyphs">60</text>
<line x1="58.85" y1="843.8" x2="250.5" y2="843.8" stroke="#000" stroke-width="1.5" />
<line x1="59.5" y1="843.8" x2="59.5" y2="848.3" stroke="#000" stroke-width="1.4" />
<text x="59.5" y="863.1" font-size="11.3" text-anchor="middle" font-weight="normal" textLength="6.5" lengthAdjust="spacingAndGlyphs">0</text>
<line x1="106.2" y1="843.8" x2="106.2" y2="848.3" stroke="#000" stroke-width="1.4" />
<text x="106.2" y="863.1" font-size="11.3" text-anchor="middle" font-weight="normal" textLength="13.0" lengthAdjust="spacingAndGlyphs">20</text>
<line x1="152.9" y1="843.8" x2="152.9" y2="848.3" stroke="#000" stroke-width="1.4" />
<text x="152.9" y="863.1" font-size="11.3" text-anchor="middle" font-weight="normal" textLength="13.0" lengthAdjust="spacingAndGlyphs">40</text>
<line x1="199.6" y1="843.8" x2="199.6" y2="848.3" stroke="#000" stroke-width="1.4" />
<text x="199.6" y="863.1" font-size="11.3" text-anchor="middle" font-weight="normal" textLength="13.0" lengthAdjust="spacingAndGlyphs">60</text>
<line x1="246.3" y1="843.8" x2="246.3" y2="848.3" stroke="#000" stroke-width="1.4" />
<text x="246.3" y="863.1" font-size="11.3" text-anchor="middle" font-weight="normal" textLength="13.0" lengthAdjust="spacingAndGlyphs">80</text>
<text class="lab" x="155.6" y="881.8" font-size="13.6" text-anchor="middle" textLength="63.5" lengthAdjust="spacingAndGlyphs">Days post BMT</text>
<text class="lab" transform="translate(22.5,773.9) rotate(-90)" x="0" y="0" font-size="14.0" text-anchor="middle" textLength="64.8" lengthAdjust="spacingAndGlyphs">% body weight</text>
<line x1="59.5" y1="777" x2="237.2" y2="767.5" stroke="#a6002d" stroke-width="1.9" />
<line x1="59.5" y1="784.7" x2="237.2" y2="798" stroke="#6cb33f" stroke-width="1.9" />
<path d="M71.2 771V789M67.4 771H75M67.4 789H75" stroke="#5c3680" stroke-width="1.25" fill="none"/>
<path d="M78.1 776V796M74.3 776H81.9M74.3 796H81.9" stroke="#5c3680" stroke-width="1.25" fill="none"/>
<path d="M87.3 776V796M83.5 776H91.1M83.5 796H91.1" stroke="#5c3680" stroke-width="1.25" fill="none"/>
<path d="M96.5 762V782M92.7 762H100.3M92.7 782H100.3" stroke="#5c3680" stroke-width="1.25" fill="none"/>
<path d="M108.1 755V774M104.3 755H111.9M104.3 774H111.9" stroke="#5c3680" stroke-width="1.25" fill="none"/>
<path d="M122.3 749.3V771M118.5 749.3H126.1M118.5 771H126.1" stroke="#5c3680" stroke-width="1.25" fill="none"/>
<path d="M129.6 752V774M125.8 752H133.4M125.8 774H133.4" stroke="#5c3680" stroke-width="1.25" fill="none"/>
<path d="M136.9 743.3V770M133.1 743.3H140.7M133.1 770H140.7" stroke="#5c3680" stroke-width="1.25" fill="none"/>
<path d="M143.1 729.1V774M139.3 729.1H146.9M139.3 774H146.9" stroke="#5c3680" stroke-width="1.25" fill="none"/>
<path d="M146.2 740V769M142.4 740H150M142.4 769H150" stroke="#5c3680" stroke-width="1.25" fill="none"/>
<path d="M153.1 730.3V782M149.3 730.3H156.9M149.3 782H156.9" stroke="#5c3680" stroke-width="1.25" fill="none"/>
<path d="M163.8 732.4V774M160 732.4H167.6M160 774H167.6" stroke="#5c3680" stroke-width="1.25" fill="none"/>
<path d="M169.2 736.3V781M165.4 736.3H173M165.4 781H173" stroke="#5c3680" stroke-width="1.25" fill="none"/>
<path d="M176.2 733.7V777M172.4 733.7H180M172.4 777H180" stroke="#5c3680" stroke-width="1.25" fill="none"/>
<path d="M181.5 739V775M177.7 739H185.3M177.7 775H185.3" stroke="#5c3680" stroke-width="1.25" fill="none"/>
<path d="M187.7 737.7V777M183.9 737.7H191.5M183.9 777H191.5" stroke="#5c3680" stroke-width="1.25" fill="none"/>
<path d="M194.6 742.6V774M190.8 742.6H198.4M190.8 774H198.4" stroke="#5c3680" stroke-width="1.25" fill="none"/>
<path d="M203.8 738V776M200 738H207.6M200 776H207.6" stroke="#5c3680" stroke-width="1.25" fill="none"/>
<path d="M213.5 733.1V780M209.7 733.1H217.3M209.7 780H217.3" stroke="#5c3680" stroke-width="1.25" fill="none"/>
<path d="M220.8 726.5V784M217 726.5H224.6M217 784H224.6" stroke="#5c3680" stroke-width="1.25" fill="none"/>
<path d="M230 729.2V777M226.2 729.2H233.8M226.2 777H233.8" stroke="#5c3680" stroke-width="1.25" fill="none"/>
<path d="M237.2 723.8V775M233.4 723.8H241M233.4 775H241" stroke="#5c3680" stroke-width="1.25" fill="none"/>
<polyline fill="none" stroke="#471a66" stroke-width="1.9" stroke-linejoin="miter" points="59.5,763.8 71.2,780 78.1,786 87.3,786 96.5,772 108.1,764.6 122.3,760 129.6,763 136.9,756.6 143.1,751.5 146.2,754.6 153.1,756.2 163.8,753.1 169.2,758.5 176.2,755.4 181.5,756.9 187.7,757.4 194.6,758.5 203.8,756.9 213.5,756.5 220.8,755.4 230,753.1 237.2,749.7"/>
<circle cx="59.5" cy="763.8" r="3.45" fill="none" stroke="#471a66" stroke-width="1.75"/>
<circle cx="71.2" cy="780" r="3.45" fill="none" stroke="#471a66" stroke-width="1.75"/>
<circle cx="78.1" cy="786" r="3.45" fill="none" stroke="#471a66" stroke-width="1.75"/>
<circle cx="87.3" cy="786" r="3.45" fill="none" stroke="#471a66" stroke-width="1.75"/>
<circle cx="96.5" cy="772" r="3.45" fill="none" stroke="#471a66" stroke-width="1.75"/>
<circle cx="108.1" cy="764.6" r="3.45" fill="none" stroke="#471a66" stroke-width="1.75"/>
<circle cx="122.3" cy="760" r="3.45" fill="none" stroke="#471a66" stroke-width="1.75"/>
<circle cx="129.6" cy="763" r="3.45" fill="none" stroke="#471a66" stroke-width="1.75"/>
<circle cx="136.9" cy="756.6" r="3.45" fill="none" stroke="#471a66" stroke-width="1.75"/>
<circle cx="143.1" cy="751.5" r="3.45" fill="none" stroke="#471a66" stroke-width="1.75"/>
<circle cx="146.2" cy="754.6" r="3.45" fill="none" stroke="#471a66" stroke-width="1.75"/>
<circle cx="153.1" cy="756.2" r="3.45" fill="none" stroke="#471a66" stroke-width="1.75"/>
<circle cx="163.8" cy="753.1" r="3.45" fill="none" stroke="#471a66" stroke-width="1.75"/>
<circle cx="169.2" cy="758.5" r="3.45" fill="none" stroke="#471a66" stroke-width="1.75"/>
<circle cx="176.2" cy="755.4" r="3.45" fill="none" stroke="#471a66" stroke-width="1.75"/>
<circle cx="181.5" cy="756.9" r="3.45" fill="none" stroke="#471a66" stroke-width="1.75"/>
<circle cx="187.7" cy="757.4" r="3.45" fill="none" stroke="#471a66" stroke-width="1.75"/>
<circle cx="194.6" cy="758.5" r="3.45" fill="none" stroke="#471a66" stroke-width="1.75"/>
<circle cx="203.8" cy="756.9" r="3.45" fill="none" stroke="#471a66" stroke-width="1.75"/>
<circle cx="213.5" cy="756.5" r="3.45" fill="none" stroke="#471a66" stroke-width="1.75"/>
<circle cx="220.8" cy="755.4" r="3.45" fill="none" stroke="#471a66" stroke-width="1.75"/>
<circle cx="230" cy="753.1" r="3.45" fill="none" stroke="#471a66" stroke-width="1.75"/>
<circle cx="237.2" cy="749.7" r="3.45" fill="none" stroke="#471a66" stroke-width="1.75"/>
<path d="M71.2 776V796M67.4 776H75M67.4 796H75" stroke="#3e5b94" stroke-width="1.25" fill="none"/>
<path d="M78.1 780V798M74.3 780H81.9M74.3 798H81.9" stroke="#3e5b94" stroke-width="1.25" fill="none"/>
<path d="M87.3 782V800M83.5 782H91.1M83.5 800H91.1" stroke="#3e5b94" stroke-width="1.25" fill="none"/>
<path d="M96.5 765V784M92.7 765H100.3M92.7 784H100.3" stroke="#3e5b94" stroke-width="1.25" fill="none"/>
<path d="M108.1 757V775M104.3 757H111.9M104.3 775H111.9" stroke="#3e5b94" stroke-width="1.25" fill="none"/>
<path d="M121.9 759V778M118.1 759H125.7M118.1 778H125.7" stroke="#3e5b94" stroke-width="1.25" fill="none"/>
<path d="M137.7 777V801M133.9 777H141.5M133.9 801H141.5" stroke="#3e5b94" stroke-width="1.25" fill="none"/>
<path d="M147.7 782V809M143.9 782H151.5M143.9 809H151.5" stroke="#3e5b94" stroke-width="1.25" fill="none"/>
<path d="M160.8 780V806M157 780H164.6M157 806H164.6" stroke="#3e5b94" stroke-width="1.25" fill="none"/>
<path d="M171.5 783V809M167.7 783H175.3M167.7 809H175.3" stroke="#3e5b94" stroke-width="1.25" fill="none"/>
<path d="M188.1 786V810M184.3 786H191.9M184.3 810H191.9" stroke="#3e5b94" stroke-width="1.25" fill="none"/>
<path d="M204.2 784V812.3M200.4 784H208M200.4 812.3H208" stroke="#3e5b94" stroke-width="1.25" fill="none"/>
<path d="M213.5 780V817M209.7 780H217.3M209.7 817H217.3" stroke="#3e5b94" stroke-width="1.25" fill="none"/>
<path d="M220.4 778V819M216.6 778H224.2M216.6 819H224.2" stroke="#3e5b94" stroke-width="1.25" fill="none"/>
<path d="M229.6 778V817.5M225.8 778H233.4M225.8 817.5H233.4" stroke="#3e5b94" stroke-width="1.25" fill="none"/>
<path d="M237.3 772V820.5M233.5 772H241.1M233.5 820.5H241.1" stroke="#3e5b94" stroke-width="1.25" fill="none"/>
<polyline fill="none" stroke="#23407d" stroke-width="1.9" stroke-linejoin="miter" points="59.5,763.8 71.2,786 78.1,789.2 87.3,790.8 96.5,774.6 108.1,766.2 121.9,768.5 137.7,789.2 147.7,795.4 160.8,793 171.5,796.2 188.1,798.5 204.2,799.2 213.5,797.7 220.4,798.5 229.6,799.2 237.3,796.9"/>
<polygon points="59.5,760.4 63.16,766.86 55.84,766.86" fill="#23407d"/>
<polygon points="71.2,782.6 74.86,789.06 67.55,789.06" fill="#23407d"/>
<polygon points="78.1,785.8 81.75,792.26 74.44,792.26" fill="#23407d"/>
<polygon points="87.3,787.4 90.95,793.86 83.64,793.86" fill="#23407d"/>
<polygon points="96.5,771.2 100.16,777.66 92.84,777.66" fill="#23407d"/>
<polygon points="108.1,762.8 111.75,769.26 104.44,769.26" fill="#23407d"/>
<polygon points="121.9,765.1 125.56,771.56 118.25,771.56" fill="#23407d"/>
<polygon points="137.7,785.8 141.35,792.26 134.04,792.26" fill="#23407d"/>
<polygon points="147.7,792 151.35,798.46 144.04,798.46" fill="#23407d"/>
<polygon points="160.8,789.6 164.46,796.06 157.15,796.06" fill="#23407d"/>
<polygon points="171.5,792.8 175.16,799.26 167.84,799.26" fill="#23407d"/>
<polygon points="188.1,795.1 191.75,801.56 184.44,801.56" fill="#23407d"/>
<polygon points="204.2,795.8 207.85,802.26 200.54,802.26" fill="#23407d"/>
<polygon points="213.5,794.3 217.16,800.76 209.84,800.76" fill="#23407d"/>
<polygon points="220.4,795.1 224.06,801.56 216.75,801.56" fill="#23407d"/>
<polygon points="229.6,795.8 233.25,802.26 225.94,802.26" fill="#23407d"/>
<polygon points="237.3,793.5 240.96,799.96 233.65,799.96" fill="#23407d"/>
<path d="M71.2 777V795M67.4 777H75M67.4 795H75" stroke="#74b74a" stroke-width="1.25" fill="none"/>
<path d="M78.1 776V796M74.3 776H81.9M74.3 796H81.9" stroke="#74b74a" stroke-width="1.25" fill="none"/>
<path d="M87.3 782V801M83.5 782H91.1M83.5 801H91.1" stroke="#74b74a" stroke-width="1.25" fill="none"/>
<path d="M96.5 766V783M92.7 766H100.3M92.7 783H100.3" stroke="#74b74a" stroke-width="1.25" fill="none"/>
<path d="M108.1 776V793.8M104.3 776H111.9M104.3 793.8H111.9" stroke="#74b74a" stroke-width="1.25" fill="none"/>
<path d="M122.4 786.9V821.2M118.6 786.9H126.2M118.6 821.2H126.2" stroke="#74b74a" stroke-width="1.25" fill="none"/>
<path d="M129.6 793.8V813.8M125.8 793.8H133.4M125.8 813.8H133.4" stroke="#74b74a" stroke-width="1.25" fill="none"/>
<path d="M136.5 799.7V815.4M132.7 799.7H140.3M132.7 815.4H140.3" stroke="#74b74a" stroke-width="1.25" fill="none"/>
<path d="M143.5 796.9V825.4M139.7 796.9H147.3M139.7 825.4H147.3" stroke="#74b74a" stroke-width="1.25" fill="none"/>
<path d="M148.1 800V835.4M144.3 800H151.9M144.3 835.4H151.9" stroke="#74b74a" stroke-width="1.25" fill="none"/>
<path d="M152.7 800V821M148.9 800H156.5M148.9 821H156.5" stroke="#74b74a" stroke-width="1.25" fill="none"/>
<path d="M164.5 790V806M160.7 790H168.3M160.7 806H168.3" stroke="#74b74a" stroke-width="1.25" fill="none"/>
<path d="M169.2 793V810M165.4 793H173M165.4 810H173" stroke="#74b74a" stroke-width="1.25" fill="none"/>
<path d="M178.1 787V804M174.3 787H181.9M174.3 804H181.9" stroke="#74b74a" stroke-width="1.25" fill="none"/>
<path d="M187.3 785V801M183.5 785H191.1M183.5 801H191.1" stroke="#74b74a" stroke-width="1.25" fill="none"/>
<path d="M195 783V800M191.2 783H198.8M191.2 800H198.8" stroke="#74b74a" stroke-width="1.25" fill="none"/>
<path d="M204.2 781V799M200.4 781H208M200.4 799H208" stroke="#74b74a" stroke-width="1.25" fill="none"/>
<path d="M213.5 777V794M209.7 777H217.3M209.7 794H217.3" stroke="#74b74a" stroke-width="1.25" fill="none"/>
<path d="M220.4 772V791M216.6 772H224.2M216.6 791H224.2" stroke="#74b74a" stroke-width="1.25" fill="none"/>
<path d="M229.6 770V788M225.8 770H233.4M225.8 788H233.4" stroke="#74b74a" stroke-width="1.25" fill="none"/>
<path d="M237.3 767V784M233.5 767H241.1M233.5 784H241.1" stroke="#74b74a" stroke-width="1.25" fill="none"/>
<polyline fill="none" stroke="#6cb33f" stroke-width="1.9" stroke-linejoin="miter" points="59.5,763.8 71.2,786 78.1,786.2 87.3,791.5 96.5,774.6 108.1,785.4 122.4,804.3 129.6,804.3 136.5,807.4 143.5,811.1 148.1,816.6 152.7,810.5 164.5,798.2 169.2,801.8 178.1,795.4 187.3,793 195,791.5 204.2,790 213.5,785.4 220.4,781.5 229.6,779.2 237.3,775.4"/>
<circle cx="59.5" cy="763.8" r="3.5" fill="#6cb33f"/>
<circle cx="71.2" cy="786" r="3.5" fill="#6cb33f"/>
<circle cx="78.1" cy="786.2" r="3.5" fill="#6cb33f"/>
<circle cx="87.3" cy="791.5" r="3.5" fill="#6cb33f"/>
<circle cx="96.5" cy="774.6" r="3.5" fill="#6cb33f"/>
<circle cx="108.1" cy="785.4" r="3.5" fill="#6cb33f"/>
<circle cx="122.4" cy="804.3" r="3.5" fill="#6cb33f"/>
<circle cx="129.6" cy="804.3" r="3.5" fill="#6cb33f"/>
<circle cx="136.5" cy="807.4" r="3.5" fill="#6cb33f"/>
<circle cx="143.5" cy="811.1" r="3.5" fill="#6cb33f"/>
<circle cx="148.1" cy="816.6" r="3.5" fill="#6cb33f"/>
<circle cx="152.7" cy="810.5" r="3.5" fill="#6cb33f"/>
<circle cx="164.5" cy="798.2" r="3.5" fill="#6cb33f"/>
<circle cx="169.2" cy="801.8" r="3.5" fill="#6cb33f"/>
<circle cx="178.1" cy="795.4" r="3.5" fill="#6cb33f"/>
<circle cx="187.3" cy="793" r="3.5" fill="#6cb33f"/>
<circle cx="195" cy="791.5" r="3.5" fill="#6cb33f"/>
<circle cx="204.2" cy="790" r="3.5" fill="#6cb33f"/>
<circle cx="213.5" cy="785.4" r="3.5" fill="#6cb33f"/>
<circle cx="220.4" cy="781.5" r="3.5" fill="#6cb33f"/>
<circle cx="229.6" cy="779.2" r="3.5" fill="#6cb33f"/>
<circle cx="237.3" cy="775.4" r="3.5" fill="#6cb33f"/>
<path d="M71.2 770.8V796.9M67.4 770.8H75M67.4 796.9H75" stroke="#ad1040" stroke-width="1.25" fill="none"/>
<path d="M78.1 765.4V796.2M74.3 765.4H81.9M74.3 796.2H81.9" stroke="#ad1040" stroke-width="1.25" fill="none"/>
<path d="M87.3 767.7V794.6M83.5 767.7H91.1M83.5 794.6H91.1" stroke="#ad1040" stroke-width="1.25" fill="none"/>
<path d="M96.5 755.4V782.3M92.7 755.4H100.3M92.7 782.3H100.3" stroke="#ad1040" stroke-width="1.25" fill="none"/>
<path d="M108.1 751.5V773M104.3 751.5H111.9M104.3 773H111.9" stroke="#ad1040" stroke-width="1.25" fill="none"/>
<path d="M121.9 755.4V780.8M118.1 755.4H125.7M118.1 780.8H125.7" stroke="#ad1040" stroke-width="1.25" fill="none"/>
<path d="M130.4 766V789M126.6 766H134.2M126.6 789H134.2" stroke="#ad1040" stroke-width="1.25" fill="none"/>
<path d="M135.8 765V789M132 765H139.6M132 789H139.6" stroke="#ad1040" stroke-width="1.25" fill="none"/>
<path d="M141.9 765V789M138.1 765H145.7M138.1 789H145.7" stroke="#ad1040" stroke-width="1.25" fill="none"/>
<path d="M147.3 765V789M143.5 765H151.1M143.5 789H151.1" stroke="#ad1040" stroke-width="1.25" fill="none"/>
<path d="M151.9 778V800M148.1 778H155.7M148.1 800H155.7" stroke="#ad1040" stroke-width="1.25" fill="none"/>
<path d="M164.2 764V790M160.4 764H168M160.4 790H168" stroke="#ad1040" stroke-width="1.25" fill="none"/>
<path d="M170.4 760V789M166.6 760H174.2M166.6 789H174.2" stroke="#ad1040" stroke-width="1.25" fill="none"/>
<path d="M179.6 757V787M175.8 757H183.4M175.8 787H183.4" stroke="#ad1040" stroke-width="1.25" fill="none"/>
<path d="M188.8 751.8V790M185 751.8H192.6M185 790H192.6" stroke="#ad1040" stroke-width="1.25" fill="none"/>
<path d="M194.6 751.8V790M190.8 751.8H198.4M190.8 790H198.4" stroke="#ad1040" stroke-width="1.25" fill="none"/>
<path d="M203.8 749.2V786M200 749.2H207.6M200 786H207.6" stroke="#ad1040" stroke-width="1.25" fill="none"/>
<path d="M213.5 748.2V784M209.7 748.2H217.3M209.7 784H217.3" stroke="#ad1040" stroke-width="1.25" fill="none"/>
<path d="M220.8 750.8V782M217 750.8H224.6M217 782H224.6" stroke="#ad1040" stroke-width="1.25" fill="none"/>
<path d="M230 749.7V782M226.2 749.7H233.8M226.2 782H233.8" stroke="#ad1040" stroke-width="1.25" fill="none"/>
<path d="M237.2 750V781M233.4 750H241M233.4 781H241" stroke="#ad1040" stroke-width="1.25" fill="none"/>
<polyline fill="none" stroke="#a6002d" stroke-width="1.9" stroke-linejoin="miter" points="59.5,763.8 71.2,783.8 78.1,781.5 87.3,782.3 96.5,770 108.1,763.1 121.9,770 130.4,777.7 135.8,777 141.9,777 147.3,777 151.9,789.2 164.2,776.9 170.4,774.6 179.6,772.3 188.8,771 194.6,771 203.8,767.7 213.5,766.2 220.8,766.2 230,765.7 237.2,765.7"/>
<rect x="56.03" y="760.33" width="6.93" height="6.93" fill="#a6002d"/>
<rect x="67.73" y="780.33" width="6.93" height="6.93" fill="#a6002d"/>
<rect x="74.63" y="778.03" width="6.93" height="6.93" fill="#a6002d"/>
<rect x="83.83" y="778.83" width="6.93" height="6.93" fill="#a6002d"/>
<rect x="93.03" y="766.53" width="6.93" height="6.93" fill="#a6002d"/>
<rect x="104.63" y="759.63" width="6.93" height="6.93" fill="#a6002d"/>
<rect x="118.44" y="766.53" width="6.93" height="6.93" fill="#a6002d"/>
<rect x="126.94" y="774.24" width="6.93" height="6.93" fill="#a6002d"/>
<rect x="132.34" y="773.53" width="6.93" height="6.93" fill="#a6002d"/>
<rect x="138.44" y="773.53" width="6.93" height="6.93" fill="#a6002d"/>
<rect x="143.84" y="773.53" width="6.93" height="6.93" fill="#a6002d"/>
<rect x="148.44" y="785.74" width="6.93" height="6.93" fill="#a6002d"/>
<rect x="160.73" y="773.43" width="6.93" height="6.93" fill="#a6002d"/>
<rect x="166.94" y="771.13" width="6.93" height="6.93" fill="#a6002d"/>
<rect x="176.13" y="768.83" width="6.93" height="6.93" fill="#a6002d"/>
<rect x="185.34" y="767.53" width="6.93" height="6.93" fill="#a6002d"/>
<rect x="191.13" y="767.53" width="6.93" height="6.93" fill="#a6002d"/>
<rect x="200.34" y="764.24" width="6.93" height="6.93" fill="#a6002d"/>
<rect x="210.03" y="762.74" width="6.93" height="6.93" fill="#a6002d"/>
<rect x="217.34" y="762.74" width="6.93" height="6.93" fill="#a6002d"/>
<rect x="226.53" y="762.24" width="6.93" height="6.93" fill="#a6002d"/>
<rect x="233.73" y="762.24" width="6.93" height="6.93" fill="#a6002d"/>
<polygon points="122.5,734.95 123.18,736.77 125.12,736.85 123.6,738.06 124.12,739.92 122.5,738.86 120.88,739.92 121.4,738.06 119.88,736.85 121.82,736.77" fill="#000"/>
<polygon points="136.5,733.05 137.18,734.87 139.12,734.95 137.6,736.16 138.12,738.02 136.5,736.95 134.88,738.02 135.4,736.16 133.88,734.95 135.82,734.87" fill="#000"/>
<polygon points="129.6,750.95 130.28,752.77 132.22,752.85 130.7,754.06 131.22,755.92 129.6,754.86 127.98,755.92 128.5,754.06 126.98,752.85 128.92,752.77" fill="#000"/>
<polygon points="143.7,718.85 144.38,720.67 146.32,720.75 144.8,721.96 145.32,723.82 143.7,722.75 142.08,723.82 142.6,721.96 141.08,720.75 143.02,720.67" fill="#000"/>
<polygon points="148.4,710.25 149.08,712.07 151.02,712.15 149.5,713.36 150.02,715.22 148.4,714.15 146.78,715.22 147.3,713.36 145.78,712.15 147.72,712.07" fill="#000"/>
<polygon points="152.9,719.45 153.58,721.27 155.52,721.35 154,722.56 154.52,724.42 152.9,723.36 151.28,724.42 151.8,722.56 150.28,721.35 152.22,721.27" fill="#000"/>
<polygon points="164.5,721.85 165.18,723.67 167.12,723.75 165.6,724.96 166.12,726.82 164.5,725.75 162.88,726.82 163.4,724.96 161.88,723.75 163.82,723.67" fill="#000"/>
<polygon points="169.4,715.05 170.08,716.87 172.02,716.95 170.5,718.16 171.02,720.02 169.4,718.95 167.78,720.02 168.3,718.16 166.78,716.95 168.72,716.87" fill="#000"/>
<polygon points="176.3,721.85 176.98,723.67 178.92,723.75 177.4,724.96 177.92,726.82 176.3,725.75 174.68,726.82 175.2,724.96 173.68,723.75 175.62,723.67" fill="#000"/>
<polygon points="187.9,727.05 188.58,728.87 190.52,728.95 189,730.16 189.52,732.02 187.9,730.95 186.28,732.02 186.8,730.16 185.28,728.95 187.22,728.87" fill="#000"/>
<path d="M246.8 762H252.3V775.8H246.8" stroke="#222" stroke-width="1.5" fill="none"/>
<text x="275.8" y="695.2" font-size="17" text-anchor="start" font-weight="bold" >F</text>
<line x1="311.6" y1="699.8" x2="311.6" y2="843.8" stroke="#000" stroke-width="1.5" />
<line x1="307.1" y1="703.8" x2="311.6" y2="703.8" stroke="#000" stroke-width="1.4" />
<text x="302.6" y="707.8" font-size="11.3" text-anchor="end" font-weight="normal" textLength="6.5" lengthAdjust="spacingAndGlyphs">4</text>
<line x1="307.1" y1="773.8" x2="311.6" y2="773.8" stroke="#000" stroke-width="1.4" />
<text x="302.6" y="777.8" font-size="11.3" text-anchor="end" font-weight="normal" textLength="6.5" lengthAdjust="spacingAndGlyphs">2</text>
<line x1="307.1" y1="843.8" x2="311.6" y2="843.8" stroke="#000" stroke-width="1.4" />
<text x="302.6" y="847.8" font-size="11.3" text-anchor="end" font-weight="normal" textLength="6.5" lengthAdjust="spacingAndGlyphs">0</text>
<line x1="310.85" y1="843.8" x2="501.8" y2="843.8" stroke="#000" stroke-width="1.5" />
<line x1="311.9" y1="843.8" x2="311.9" y2="848.3" stroke="#000" stroke-width="1.4" />
<text x="311.9" y="863.1" font-size="11.3" text-anchor="middle" font-weight="normal" textLength="6.5" lengthAdjust="spacingAndGlyphs">0</text>
<line x1="358.3" y1="843.8" x2="358.3" y2="848.3" stroke="#000" stroke-width="1.4" />
<text x="358.3" y="863.1" font-size="11.3" text-anchor="middle" font-weight="normal" textLength="13.0" lengthAdjust="spacingAndGlyphs">20</text>
<line x1="404.7" y1="843.8" x2="404.7" y2="848.3" stroke="#000" stroke-width="1.4" />
<text x="404.7" y="863.1" font-size="11.3" text-anchor="middle" font-weight="normal" textLength="13.0" lengthAdjust="spacingAndGlyphs">40</text>
<line x1="451.1" y1="843.8" x2="451.1" y2="848.3" stroke="#000" stroke-width="1.4" />
<text x="451.1" y="863.1" font-size="11.3" text-anchor="middle" font-weight="normal" textLength="13.0" lengthAdjust="spacingAndGlyphs">60</text>
<line x1="497.5" y1="843.8" x2="497.5" y2="848.3" stroke="#000" stroke-width="1.4" />
<text x="497.5" y="863.1" font-size="11.3" text-anchor="middle" font-weight="normal" textLength="13.0" lengthAdjust="spacingAndGlyphs">80</text>
<text class="lab" x="406.8" y="881.9" font-size="13.6" text-anchor="middle" textLength="63.5" lengthAdjust="spacingAndGlyphs">Days post BMT</text>
<text class="lab" transform="translate(288.4,773.9) rotate(-90)" x="0" y="0" font-size="14.0" text-anchor="middle" textLength="56.3" lengthAdjust="spacingAndGlyphs">Clinical score</text>
<polyline fill="none" stroke="#471a66" stroke-width="1.9" stroke-linejoin="miter" points="311.9,843.8 335.1,808.8 358.3,843.8 381.5,843.8 404.7,843.8 427.9,843.8 451.1,843.8 474.3,843.8 497.5,843.8"/>
<circle cx="311.9" cy="843.8" r="3.28" fill="none" stroke="#471a66" stroke-width="1.75"/>
<circle cx="335.1" cy="808.8" r="3.28" fill="none" stroke="#471a66" stroke-width="1.75"/>
<circle cx="358.3" cy="843.8" r="3.28" fill="none" stroke="#471a66" stroke-width="1.75"/>
<circle cx="381.5" cy="843.8" r="3.28" fill="none" stroke="#471a66" stroke-width="1.75"/>
<circle cx="404.7" cy="843.8" r="3.28" fill="none" stroke="#471a66" stroke-width="1.75"/>
<circle cx="427.9" cy="843.8" r="3.28" fill="none" stroke="#471a66" stroke-width="1.75"/>
<circle cx="451.1" cy="843.8" r="3.28" fill="none" stroke="#471a66" stroke-width="1.75"/>
<circle cx="474.3" cy="843.8" r="3.28" fill="none" stroke="#471a66" stroke-width="1.75"/>
<circle cx="497.5" cy="843.8" r="3.28" fill="none" stroke="#471a66" stroke-width="1.75"/>
<path d="M381.5 798.5V827.7M377.7 798.5H385.3M377.7 827.7H385.3" stroke="#3e5b94" stroke-width="1.25" fill="none"/>
<path d="M404.7 770.2V812.3M400.9 770.2H408.5M400.9 812.3H408.5" stroke="#3e5b94" stroke-width="1.25" fill="none"/>
<path d="M427.9 757V780M424.1 757H431.7M424.1 780H431.7" stroke="#3e5b94" stroke-width="1.25" fill="none"/>
<path d="M451.1 746.8V777M447.3 746.8H454.9M447.3 777H454.9" stroke="#3e5b94" stroke-width="1.25" fill="none"/>
<path d="M474.3 757V777M470.5 757H478.1M470.5 777H478.1" stroke="#3e5b94" stroke-width="1.25" fill="none"/>
<path d="M497.5 750.8V766.2M493.7 750.8H501.3M493.7 766.2H501.3" stroke="#3e5b94" stroke-width="1.25" fill="none"/>
<polyline fill="none" stroke="#23407d" stroke-width="1.9" stroke-linejoin="miter" points="311.9,843.8 335.1,820.4 358.3,843.8 381.5,813.8 404.7,791.7 427.9,768.3 451.1,762.5 474.3,762.5 497.5,757"/>
<polygon points="311.9,840.6 315.34,846.68 308.46,846.68" fill="#23407d"/>
<polygon points="335.1,817.2 338.54,823.28 331.66,823.28" fill="#23407d"/>
<polygon points="358.3,840.6 361.74,846.68 354.86,846.68" fill="#23407d"/>
<polygon points="381.5,810.6 384.94,816.68 378.06,816.68" fill="#23407d"/>
<polygon points="404.7,788.5 408.14,794.58 401.26,794.58" fill="#23407d"/>
<polygon points="427.9,765.1 431.34,771.18 424.46,771.18" fill="#23407d"/>
<polygon points="451.1,759.3 454.54,765.38 447.66,765.38" fill="#23407d"/>
<polygon points="474.3,759.3 477.74,765.38 470.86,765.38" fill="#23407d"/>
<polygon points="497.5,753.8 500.94,759.88 494.06,759.88" fill="#23407d"/>
<path d="M358.3 814.6V831M354.5 814.6H362.1M354.5 831H362.1" stroke="#74b74a" stroke-width="1.25" fill="none"/>
<path d="M381.5 730.8V764M377.7 730.8H385.3M377.7 764H385.3" stroke="#74b74a" stroke-width="1.25" fill="none"/>
<path d="M404.7 739V757M400.9 739H408.5M400.9 757H408.5" stroke="#74b74a" stroke-width="1.25" fill="none"/>
<path d="M427.9 739V757M424.1 739H431.7M424.1 757H431.7" stroke="#74b74a" stroke-width="1.25" fill="none"/>
<path d="M451.1 721.5V757M447.3 721.5H454.9M447.3 757H454.9" stroke="#74b74a" stroke-width="1.25" fill="none"/>
<path d="M474.3 739V757M470.5 739H478.1M470.5 757H478.1" stroke="#74b74a" stroke-width="1.25" fill="none"/>
<path d="M497.5 739V757M493.7 739H501.3M493.7 757H501.3" stroke="#74b74a" stroke-width="1.25" fill="none"/>
<polyline fill="none" stroke="#6cb33f" stroke-width="1.9" stroke-linejoin="miter" points="311.9,843.8 335.1,820.4 358.3,822.7 381.5,747.7 404.7,747.7 427.9,747.7 451.1,738.5 474.3,747.7 497.5,747.7"/>
<circle cx="311.9" cy="843.8" r="3.68" fill="#6cb33f"/>
<circle cx="335.1" cy="820.4" r="3.68" fill="#6cb33f"/>
<circle cx="358.3" cy="822.7" r="3.68" fill="#6cb33f"/>
<circle cx="381.5" cy="747.7" r="3.68" fill="#6cb33f"/>
<circle cx="404.7" cy="747.7" r="3.68" fill="#6cb33f"/>
<circle cx="427.9" cy="747.7" r="3.68" fill="#6cb33f"/>
<circle cx="451.1" cy="738.5" r="3.68" fill="#6cb33f"/>
<circle cx="474.3" cy="747.7" r="3.68" fill="#6cb33f"/>
<circle cx="497.5" cy="747.7" r="3.68" fill="#6cb33f"/>
<path d="M335.1 826V838.7M331.3 826H338.9M331.3 838.7H338.9" stroke="#ad1040" stroke-width="1.25" fill="none"/>
<path d="M381.5 827.7V838M377.7 827.7H385.3M377.7 838H385.3" stroke="#ad1040" stroke-width="1.25" fill="none"/>
<path d="M404.7 815.4V837M400.9 815.4H408.5M400.9 837H408.5" stroke="#ad1040" stroke-width="1.25" fill="none"/>
<path d="M427.9 816.3V836.3M424.1 816.3H431.7M424.1 836.3H431.7" stroke="#ad1040" stroke-width="1.25" fill="none"/>
<path d="M451.1 813.8V829.8M447.3 813.8H454.9M447.3 829.8H454.9" stroke="#ad1040" stroke-width="1.25" fill="none"/>
<path d="M474.3 822.5V838.5M470.5 822.5H478.1M470.5 838.5H478.1" stroke="#ad1040" stroke-width="1.25" fill="none"/>
<path d="M497.5 819V833.2M493.7 819H501.3M493.7 833.2H501.3" stroke="#ad1040" stroke-width="1.25" fill="none"/>
<polyline fill="none" stroke="#a6002d" stroke-width="1.9" stroke-linejoin="miter" points="311.9,843.8 335.1,831.9 358.3,843.8 381.5,833.2 404.7,826.2 427.9,826.2 451.1,822.2 474.3,830.2 497.5,826.2"/>
<rect x="308.1" y="840" width="7.59" height="7.59" fill="#a6002d"/>
<rect x="331.3" y="828.11" width="7.59" height="7.59" fill="#a6002d"/>
<rect x="354.5" y="840" width="7.59" height="7.59" fill="#a6002d"/>
<rect x="377.7" y="829.41" width="7.59" height="7.59" fill="#a6002d"/>
<rect x="400.9" y="822.41" width="7.59" height="7.59" fill="#a6002d"/>
<rect x="424.1" y="822.41" width="7.59" height="7.59" fill="#a6002d"/>
<rect x="447.3" y="818.41" width="7.59" height="7.59" fill="#a6002d"/>
<rect x="470.5" y="826.41" width="7.59" height="7.59" fill="#a6002d"/>
<rect x="493.7" y="822.41" width="7.59" height="7.59" fill="#a6002d"/>
<polygon points="405.2,724.8 405.87,726.58 407.77,726.67 406.28,727.85 406.79,729.68 405.2,728.63 403.61,729.68 404.12,727.85 402.63,726.67 404.53,726.58" fill="#000"/>
<polygon points="428.4,724.8 429.07,726.58 430.97,726.67 429.48,727.85 429.99,729.68 428.4,728.63 426.81,729.68 427.32,727.85 425.83,726.67 427.73,726.58" fill="#000"/>
<polygon points="474.8,724.8 475.47,726.58 477.37,726.67 475.88,727.85 476.39,729.68 474.8,728.63 473.21,729.68 473.72,727.85 472.23,726.67 474.13,726.58" fill="#000"/>
<polygon points="498,724.8 498.67,726.58 500.57,726.67 499.08,727.85 499.59,729.68 498,728.63 496.41,729.68 496.92,727.85 495.43,726.67 497.33,726.58" fill="#000"/>
<path d="M504.3 746.8H509.8V826.8H504.3" stroke="#222" stroke-width="1.5" fill="none"/>
<rect x="0" y="0" width="520" height="1.6" fill="#000"/>
<rect x="0" y="0" width="1.6" height="896" fill="#000"/>
<rect x="517.6" y="0" width="2.4" height="896" fill="#000"/>
<rect x="0" y="893.6" width="520" height="2.4" fill="#000"/>
</svg>
</body></html>
